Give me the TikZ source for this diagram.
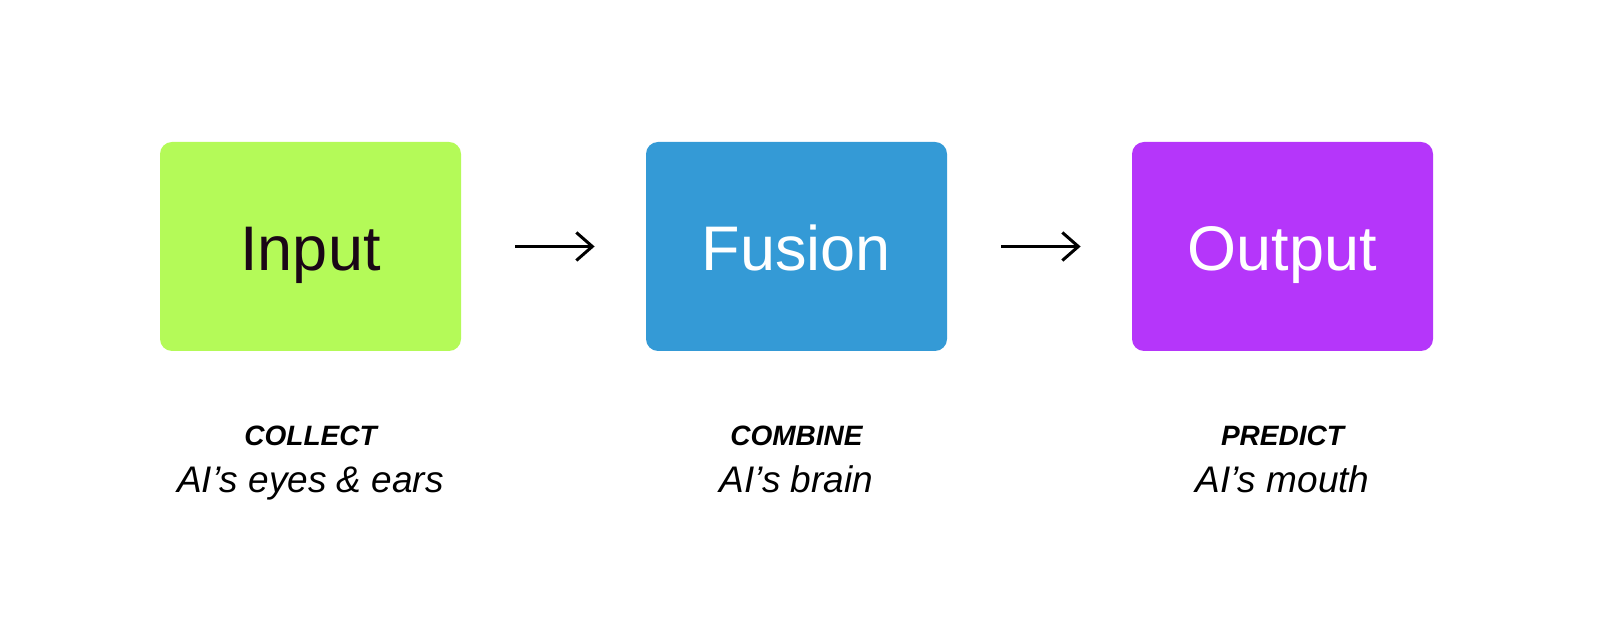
\documentclass[tikz,border=0pt]{standalone}
\usepackage{fontspec}
\setmainfont{Liberation Sans}
\usetikzlibrary{arrows.meta}
\definecolor{inGreen}{RGB}{180,250,88}
\definecolor{fuBlue}{RGB}{52,154,214}
\definecolor{outPurple}{RGB}{181,54,250}
\definecolor{inkDark}{RGB}{26,6,22}
\begin{document}
\begin{tikzpicture}[
x=0.5pt, y=-0.5pt,
stage/.style = {rounded corners=6pt,minimum width=150.5pt,minimum height=104.5pt,
  inner sep=0pt,text height=24.5pt,text depth=0pt,font=\fontsize{31.5}{36}\selectfont},
flow/.style = {line width=1.5pt,-{Straight Barb[length=8pt,width=14pt]},
  shorten <=27pt,shorten >=25.5pt},
tag/.style = {anchor=base,font=\fontsize{14}{16}\selectfont\bfseries\itshape},
note/.style = {anchor=base,font=\fontsize{18.5}{22}\selectfont\itshape}
]
  \useasboundingbox (0,0) rectangle (1600,624);

  \node[stage,fill=inGreen,text=inkDark] (inp) at (310.5,246.5) {Input};
  \node[stage,fill=fuBlue,text=white] (fus) at (796.5,246.5) {Fusion};
  \node[stage,fill=outPurple,text=white] (out) at (1282.5,246.5) {Output};

  \draw[flow] (inp) -- (fus);
  \draw[flow] (fus) -- (out);

  \node[tag] (t1) at (310.5,446) {COLLECT};
  \node[note] (n1) at (310.5,493) {AI’s eyes \& ears};
  \node[tag] (t2) at (796.5,446) {COMBINE};
  \node[note] (n2) at (796.5,493) {AI’s brain};
  \node[tag] (t3) at (1282.5,446) {PREDICT};
  \node[note] (n3) at (1282.5,493) {AI’s mouth};
\end{tikzpicture}
\end{document}
